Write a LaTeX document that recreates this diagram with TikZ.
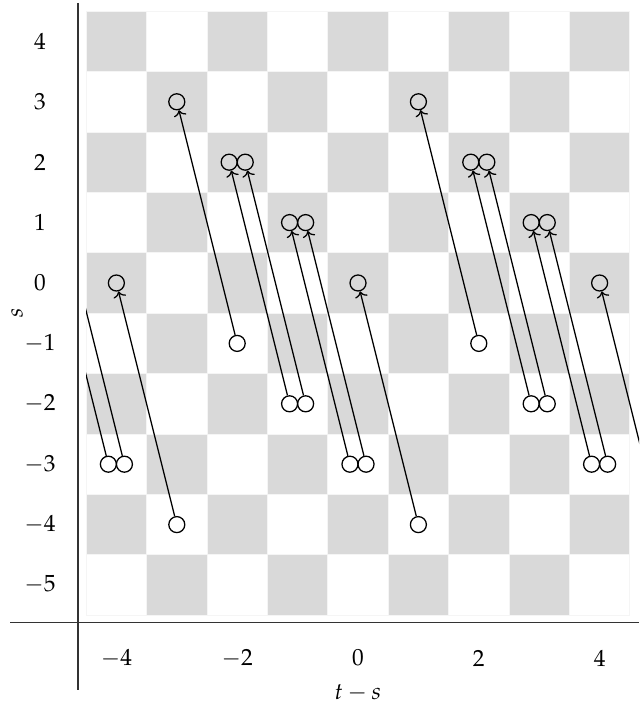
\documentclass[tikz,border=0pt]{standalone}
\usepackage{mathpazo}
\usetikzlibrary{arrows.meta}
\tikzset{
  pt/.style={circle,draw,line width=0.6pt,inner sep=0pt,minimum size=0.265cm},
  conn/.style={line width=0.6pt,-{To[length=2.8pt,width=6pt]}},
  connfree/.style={line width=0.6pt},
  graycell/.style={fill=gray!30,draw=gray!8,line width=0.4pt},
  whitecell/.style={draw=gray!8,line width=0.4pt},
  tick/.style={font=\fontsize{11}{13}\selectfont,inner sep=0pt},
  axis/.style={line width=0.6pt,draw=black!80}
}
\begin{document}
\begin{tikzpicture}[x=1cm,y=1cm]
\useasboundingbox (-5.927,-6.970) rectangle (4.652,4.685);
% board
\foreach \i in {-4,...,4}{
  \foreach \j in {-5,...,4}{
    \pgfmathtruncatemacro{\parity}{mod(abs(\i+\j),2)}
    \ifnum\parity=0
      \path[graycell] (\i-0.5,\j-0.5) rectangle (\i+0.5,\j+0.5);
    \else
      \path[whitecell] (\i-0.5,\j-0.5) rectangle (\i+0.5,\j+0.5);
    \fi
  }
}
% axes
\draw[axis] (-4.636,4.636) -- (-4.636,-6.74);
\draw[axis] (-5.76,-5.624) -- (4.652,-5.624);
% tick labels
\foreach \v in {4,3,2,1,0,-1,-2,-3,-4,-5}{
  \node[tick] (ly\v) at (-5.265,\v) {$\v$};
}
\foreach \v in {-4,-2,0,2,4}{
  \node[tick] (lx\v) at (\v,-6.21) {$\v$};
}
\node[tick,rotate=90] (slab) at (-5.646,-0.5) {$s$};
\node[tick] (tslab) at (0,-6.78) {$t-s$};
% points
\def\d{0.133}
\node[pt] (A) at (-3,3) {};
\node[pt] (Ab) at (-2,-1) {};
\node[pt] (B1) at (-2-\d,2) {};
\node[pt] (B2) at (-2+\d,2) {};
\node[pt] (Bb1) at (-1-\d,-2) {};
\node[pt] (Bb2) at (-1+\d,-2) {};
\node[pt] (C1) at (-1-\d,1) {};
\node[pt] (C2) at (-1+\d,1) {};
\node[pt] (Cb1) at (-\d,-3) {};
\node[pt] (Cb2) at (\d,-3) {};
\node[pt] (D) at (0,0) {};
\node[pt] (Db) at (1,-4) {};
\node[pt] (E) at (-4,0) {};
\node[pt] (Eb) at (-3,-4) {};
\node[pt] (F1) at (-4-\d,-3) {};
\node[pt] (F2) at (-4+\d,-3) {};
\coordinate (f1) at (-5-\d,1);
\coordinate (f2) at (-5+\d,1);
\node[pt] (G) at (1,3) {};
\node[pt] (Gb) at (2,-1) {};
\node[pt] (H1) at (2-\d,2) {};
\node[pt] (H2) at (2+\d,2) {};
\node[pt] (Hb1) at (3-\d,-2) {};
\node[pt] (Hb2) at (3+\d,-2) {};
\node[pt] (I1) at (3-\d,1) {};
\node[pt] (I2) at (3+\d,1) {};
\node[pt] (Ib1) at (4-\d,-3) {};
\node[pt] (Ib2) at (4+\d,-3) {};
\node[pt] (J) at (4,0) {};
\coordinate (jb) at (5,-4);
% connectors
\draw[conn] (Ab) -- (A);
\draw[conn] (Bb1) -- (B1);
\draw[conn] (Bb2) -- (B2);
\draw[conn] (Cb1) -- (C1);
\draw[conn] (Cb2) -- (C2);
\draw[conn] (Db) -- (D);
\draw[conn] (Eb) -- (E);
\draw[conn] (Gb) -- (G);
\draw[conn] (Hb1) -- (H1);
\draw[conn] (Hb2) -- (H2);
\draw[conn] (Ib1) -- (I1);
\draw[conn] (Ib2) -- (I2);
\begin{scope}
  \clip (-4.5,-6.97) rectangle (4.652,4.685);
  \draw[connfree] (F1) -- (f1);
  \draw[connfree] (F2) -- (f2);
  \draw[conn] (jb) -- (J);
\end{scope}
\end{tikzpicture}
\end{document}
